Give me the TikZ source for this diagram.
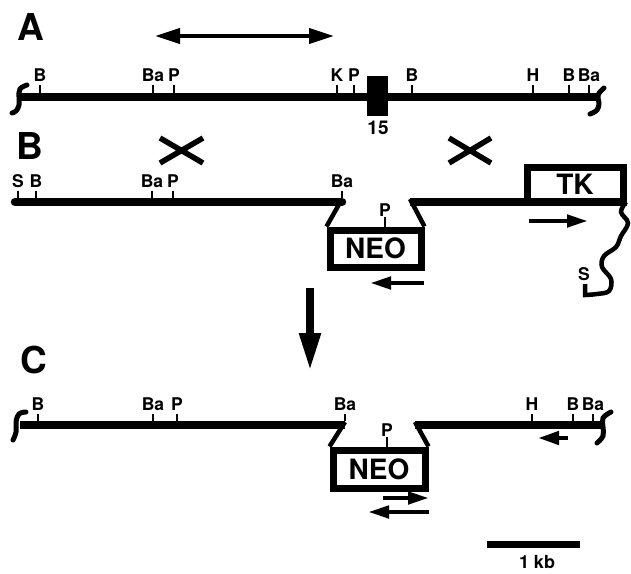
\documentclass[tikz,border=0pt]{standalone}
\usepackage{fontspec}
\setmainfont{TeX Gyre Heros}
\usetikzlibrary{arrows.meta}
\begin{document}
\begin{tikzpicture}[x=1pt,y=-1pt,
  dna/.style={line width=8.5pt},
  cut/.style={line width=2.8pt},
  site/.style={anchor=base,inner sep=0pt,font=\fontsize{17.5}{17.5}\selectfont\bfseries},
  panel/.style={inner sep=0pt,font=\fontsize{37}{37}\selectfont\bfseries},
  genebox/.style={draw,line width=7pt,inner sep=0pt,font=\fontsize{28}{28}\selectfont\bfseries},
  slant/.style={line width=4.5pt},
  brk/.style={line width=5pt,line cap=round},
  xmark/.style={line width=5.5pt},
  dir/.style={line width=4.5pt,-{Triangle[length=21pt,width=12pt]}},
]
\useasboundingbox (0,0) rectangle (631,573);

% ---------------- A: wild-type locus ----------------
\node[panel] (labA) at (31,27) {A};
\coordinate (arrL) at (155,36);
\coordinate (arrR) at (334,36);
\draw[line width=4pt,{Triangle[length=25pt,width=15pt]}-{Triangle[length=25pt,width=15pt]}] (arrL) -- (arrR);

\coordinate (aL) at (20,97);
\coordinate (aR) at (598,97);
\draw[dna] (aL) -- (aR);
\draw[brk] plot[smooth,tension=0.7] coordinates {(27,85) (20,89) (19,97) (19,105) (16,111) (12,113)};
\draw[brk] plot[smooth,tension=0.7] coordinates {(604,88) (598,95) (599,103) (597,110) (590,114)};
\foreach \x/\t in {40/B,153/Ba,174/P,337/K,354/P,412/B,533/H,569/B,589/Ba}{
  \draw[cut] (\x,93) -- (\x,85);
  \node[site] at (\x,81) {\t};
}
\node[fill,minimum width=21pt,minimum height=40pt,inner sep=0pt] (exon) at (377.5,96) {};
\node[inner sep=0pt,font=\fontsize{19}{19}\selectfont\bfseries] (exlab) at (378,128) {15};

% ---------------- B: targeting vector ----------------
\node[panel] (labB) at (30,146) {B};
\draw[xmark] (160,138) -- (203,163) (160,163) -- (203,138);
\draw[xmark] (449,138) -- (491,163) (449,163) -- (491,138);

\coordinate (bL) at (15,202);
\coordinate (bBa) at (342,202);
\coordinate (bP) at (410,202);
\coordinate (bR) at (626,202);
\draw[dna,line cap=round] (bL) -- (bBa);
\draw[dna] (bP) -- (bR);
\foreach \x/\t in {18/S,36/B,152/Ba,173/P,342/Ba}{
  \draw[cut] (\x,198) -- (\x,191);
  \node[site] at (\x,187) {\t};
}
\node[genebox,minimum width=91pt,minimum height=37pt] (neoB) at (375.5,248.5) {NEO};
\draw[slant] (342,199) -- (neoB.north west);
\draw[slant] (410,199) -- (neoB.north east);
\draw[cut] (neoB.north) ++(9.5,0) -- ++(0,-10);
\node[site] at (385,216) {P};
\draw[dir] (424,283) -- (370,283);

\node[genebox,minimum width=96pt,minimum height=35pt] (tk) at (575,184.5) {TK};
\draw[dir] (529,221) -- (588,221);
\draw[line width=4.5pt] plot[smooth,tension=0.6] coordinates {(626,202) (621,212) (628,223) (621,236) (616,247) (604,256) (602,267) (611,279) (609,291) (597,294) (585,295)} -- (585,284);
\node[site] at (584,280) {S};

% ---------------- recombination ----------------
\coordinate (dnTop) at (310,288);
\coordinate (dnTip) at (310,371);
\draw[line width=8pt,-{Triangle[length=38pt,width=20pt]}] (dnTop) -- (dnTip);

% ---------------- C: targeted locus ----------------
\node[panel] (labC) at (34,360) {C};
\coordinate (cL) at (20,425);
\coordinate (cBa) at (345,425);
\coordinate (cP) at (415,425);
\coordinate (cR) at (601,425);
\draw[dna] (cL) -- (cBa);
\draw[dna] (cP) -- (cR);
\draw[brk] plot[smooth,tension=0.7] coordinates {(26,412) (19,414) (16,422) (16,432) (13,440)};
\draw[brk] plot[smooth,tension=0.7] coordinates {(611,412) (603,418) (603,427) (603,436) (597,443)};
\foreach \x/\t in {38/B,153/Ba,177/P,345/Ba,532/H,573/B,593/Ba}{
  \draw[cut] (\x,421) -- (\x,414);
  \node[site] at (\x,410) {\t};
}
\node[genebox,minimum width=92pt,minimum height=38pt] (neoC) at (379,469) {NEO};
\draw[slant] (345,422) -- (neoC.north west);
\draw[slant] (415,422) -- (neoC.north east);
\draw[cut] (neoC.north) ++(8,0) -- ++(0,-10);
\node[site] at (387,436) {P};
\draw[dir] (383,498) -- (429,498);
\draw[dir] (429,512) -- (368,512);
\draw[line width=4.5pt,-{Triangle[length=21pt,width=13pt]}] (568,438) -- (538,438);

% ---------------- scale bar ----------------
\coordinate (sbL) at (487,544);
\coordinate (sbR) at (580,544);
\draw[line width=7pt] (sbL) -- (sbR);
\node[inner sep=0pt,font=\fontsize{18}{18}\selectfont\bfseries] (sblab) at (537,562) {1 kb};
\end{tikzpicture}
\end{document}
